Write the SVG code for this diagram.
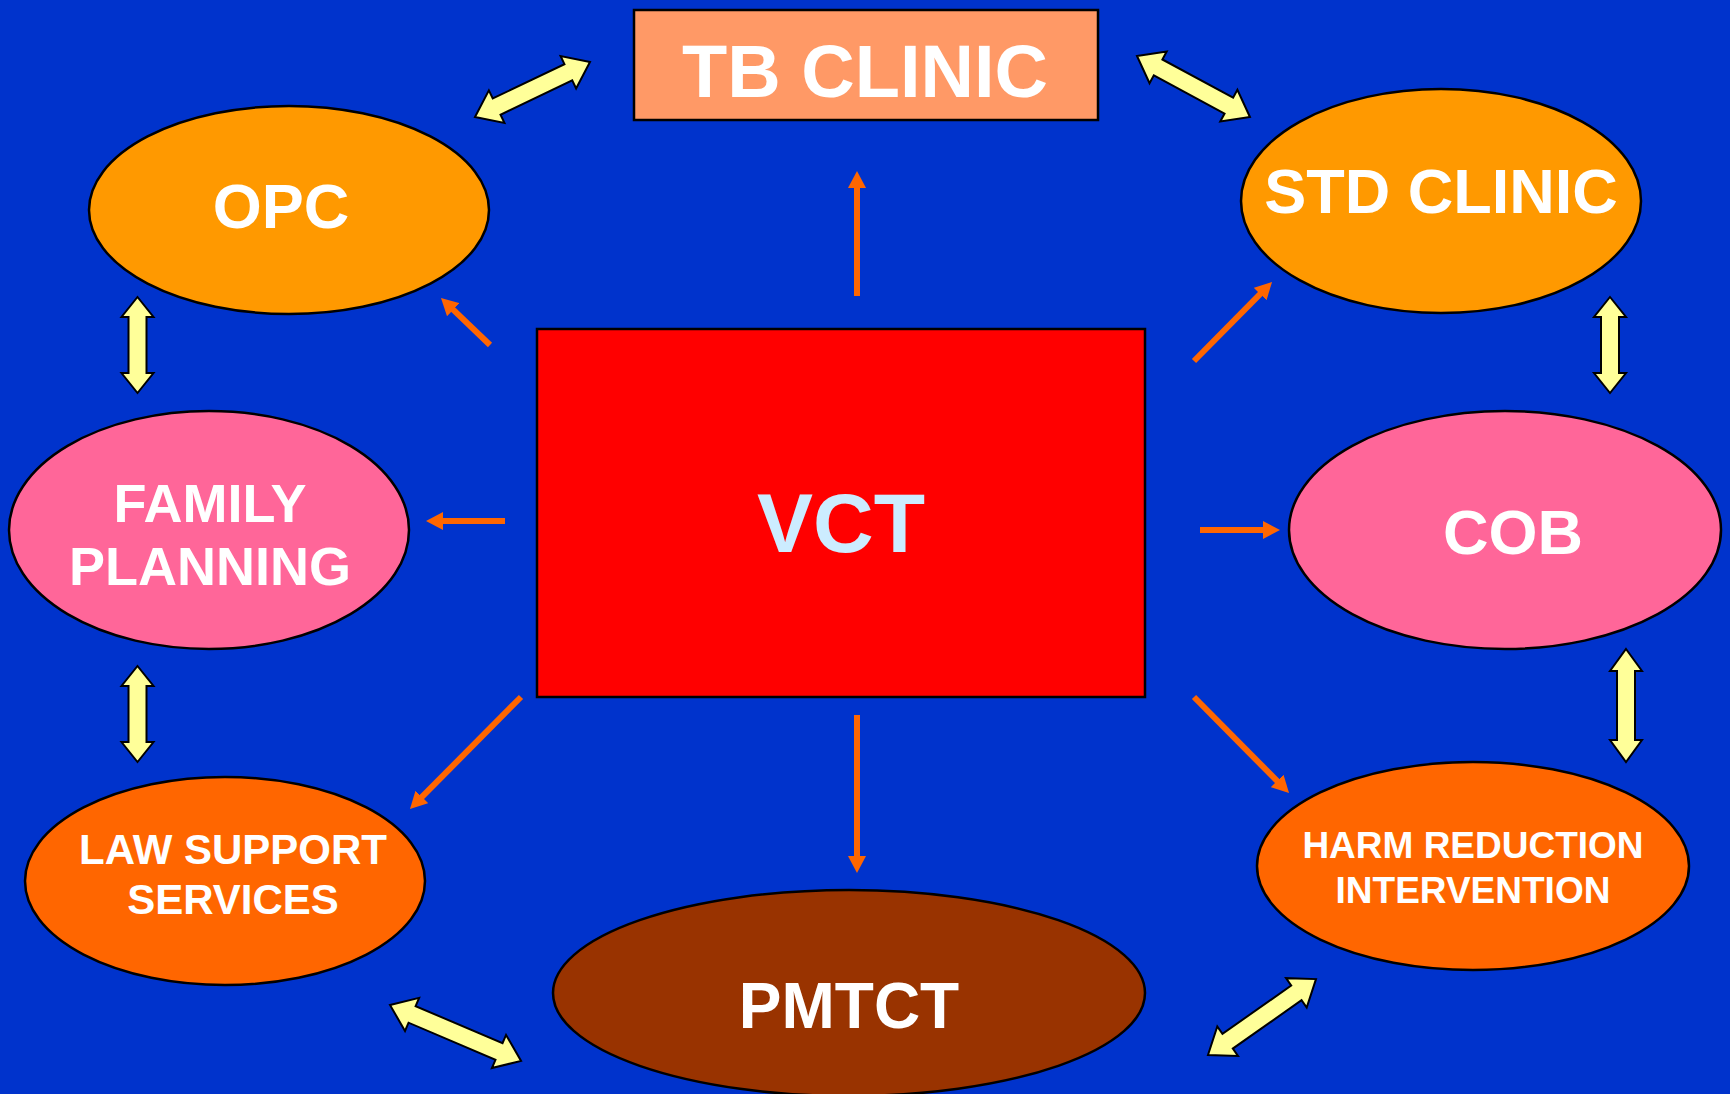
<svg xmlns="http://www.w3.org/2000/svg" width="1730" height="1094" viewBox="0 0 1730 1094">
<style>
.node{stroke:#000;stroke-width:2.5}
.lbl{font-family:"Liberation Sans",Arial,sans-serif;font-weight:bold;fill:#fff;text-anchor:middle}
.flow{stroke:#FF6600;stroke-width:6;fill:none;marker-end:url(#oh)}
.dbl{fill:#FFFF99;stroke:#000;stroke-width:2;stroke-linejoin:miter}
</style>
<defs>
<marker id="oh" markerUnits="userSpaceOnUse" markerWidth="18" markerHeight="18" refX="7" refY="9" orient="auto">
<path d="M0,0 L17,9 L0,18 Z" fill="#FF6600"/>
</marker>
</defs>
<rect x="0" y="0" width="1730" height="1094" fill="#0033CC"/>

<g id="tb-clinic">
<rect class="node" x="634" y="10" width="464" height="110" fill="#FF9966" stroke-width="3"/>
<text class="lbl" x="865" y="97" font-size="74">TB CLINIC</text>
</g>
<g id="opc">
<ellipse class="node" cx="289" cy="210" rx="200" ry="104" fill="#FF9900"/>
<text class="lbl" x="281" y="228" font-size="63">OPC</text>
</g>
<g id="std-clinic">
<ellipse class="node" cx="1441" cy="201" rx="200" ry="112" fill="#FF9900"/>
<text class="lbl" x="1441" y="213" font-size="63">STD CLINIC</text>
</g>
<g id="family-planning">
<ellipse class="node" cx="209" cy="530" rx="200" ry="119" fill="#FF6699"/>
<text class="lbl" x="210" y="522" font-size="54">FAMILY</text>
<text class="lbl" x="210" y="585" font-size="54">PLANNING</text>
</g>
<g id="vct">
<rect class="node" x="537" y="329" width="608" height="368" fill="#FF0000" stroke-width="3"/>
<text class="lbl" x="841" y="552" font-size="84" style="fill:#CCECFF">VCT</text>
</g>
<g id="cob">
<ellipse class="node" cx="1505" cy="530" rx="216" ry="119" fill="#FF6699"/>
<text class="lbl" x="1513" y="554" font-size="63">COB</text>
</g>
<g id="law-support">
<ellipse class="node" cx="225" cy="881" rx="200" ry="104" fill="#FF6600"/>
<text class="lbl" x="233" y="864" font-size="42">LAW SUPPORT</text>
<text class="lbl" x="233" y="914" font-size="42">SERVICES</text>
</g>
<g id="harm-reduction">
<ellipse class="node" cx="1473" cy="866" rx="216" ry="104" fill="#FF6600"/>
<text class="lbl" x="1473" y="858" font-size="37">HARM REDUCTION</text>
<text class="lbl" x="1473" y="903" font-size="37">INTERVENTION</text>
</g>
<g id="pmtct">
<ellipse class="node" cx="849" cy="993" rx="296" ry="103" fill="#993300"/>
<text class="lbl" x="849" y="1028" font-size="64">PMTCT</text>
</g>

<g id="connectors">
<line class="flow" x1="857" y1="296" x2="857" y2="181"/>
<line class="flow" x1="490" y1="345" x2="448.2" y2="304.9"/>
<line class="flow" x1="1194" y1="361" x2="1265" y2="289.1"/>
<line class="flow" x1="505" y1="521" x2="436" y2="521"/>
<line class="flow" x1="1200" y1="530" x2="1270" y2="530"/>
<line class="flow" x1="521" y1="697" x2="417" y2="801.9"/>
<line class="flow" x1="857" y1="715" x2="857" y2="863"/>
<line class="flow" x1="1194" y1="697" x2="1282" y2="785.9"/>

<polygon class="dbl" transform="translate(475,117) rotate(-25.6)" points="0,0 24,-18 24,-9 103.5,-9 103.5,-18 127.5,0 103.5,18 103.5,9 24,9 24,18"/>
<polygon class="dbl" transform="translate(1137,56) rotate(28.4)" points="0,0 24,-18 24,-9 104.4,-9 104.4,-18 128.4,0 104.4,18 104.4,9 24,9 24,18"/>
<polygon class="dbl" transform="translate(137.5,297) rotate(90)" points="0,0 20,-16 20,-9 76,-9 76,-16 96,0 76,16 76,9 20,9 20,16"/>
<polygon class="dbl" transform="translate(137.5,666) rotate(90)" points="0,0 20,-16 20,-9 76,-9 76,-16 96,0 76,16 76,9 20,9 20,16"/>
<polygon class="dbl" transform="translate(1610,297) rotate(90)" points="0,0 20,-16 20,-9 76,-9 76,-16 96,0 76,16 76,9 20,9 20,16"/>
<polygon class="dbl" transform="translate(1626,649) rotate(90)" points="0,0 22,-16 22,-9 91,-9 91,-16 113,0 91,16 91,9 22,9 22,16"/>
<polygon class="dbl" transform="translate(390,1005) rotate(23.1)" points="0,0 24,-18 24,-9 118.5,-9 118.5,-18 142.5,0 118.5,18 118.5,9 24,9 24,18"/>
<polygon class="dbl" transform="translate(1208,1055) rotate(-35.1)" points="0,0 24,-18 24,-9 108,-9 108,-18 132,0 108,18 108,9 24,9 24,18"/>
</g>
</svg>
